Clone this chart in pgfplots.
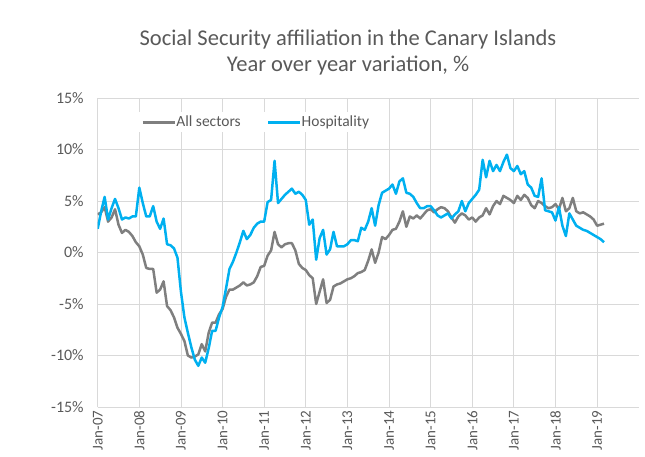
\documentclass[border=0pt]{standalone}
\usepackage{fontspec}
\setmainfont{Carlito}
\usepackage{pgfplots}
\pgfplotsset{compat=1.18}
\usepackage{pgfplotstable}
\definecolor{grayline}{HTML}{7F7F7F}
\definecolor{blueline}{HTML}{00B0F0}
\definecolor{gridc}{HTML}{D9D9D9}
\definecolor{txt}{HTML}{595959}

\pgfplotstableread{
m all hosp
0 3.7 2.3
1 3.9 4.0
2 4.4 5.4
3 3.0 3.2
4 3.4 4.3
5 4.2 5.2
6 2.7 4.3
7 1.9 3.2
8 2.2 3.4
9 2.0 3.3
10 1.6 3.5
11 1.0 3.5
12 0.6 6.3
13 -0.2 4.8
14 -1.5 3.5
15 -1.6 3.5
16 -1.6 4.5
17 -3.9 3.0
18 -3.6 2.3
19 -2.8 3.3
20 -5.2 0.8
21 -5.6 0.7
22 -6.3 0.4
23 -7.3 -0.5
24 -7.9 -3.8
25 -8.6 -6.3
26 -10.0 -7.8
27 -10.2 -9.2
28 -10.1 -10.4
29 -9.9 -11.0
30 -8.9 -10.2
31 -9.6 -10.7
32 -7.8 -9.3
33 -6.8 -7.6
34 -6.8 -7.6
35 -6.0 -6.3
36 -5.5 -5.3
37 -4.3 -3.5
38 -3.6 -1.6
39 -3.6 -0.9
40 -3.4 0.0
41 -3.2 1.0
42 -2.9 2.1
43 -3.2 1.3
44 -3.1 1.7
45 -2.9 2.4
46 -2.3 2.8
47 -1.4 3.0
48 -1.3 3.0
49 -0.3 4.9
50 0.2 5.1
51 2.0 8.9
52 0.8 4.8
53 0.5 5.2
54 0.8 5.6
55 0.9 5.9
56 0.9 6.2
57 0.2 5.7
58 -1.1 5.9
59 -1.5 5.6
60 -1.7 5.1
61 -2.2 2.7
62 -2.5 3.2
63 -5.0 -0.7
64 -3.8 1.4
65 -2.6 2.2
66 -4.9 -0.2
67 -4.6 0.3
68 -3.3 2.0
69 -3.1 0.6
70 -3.0 0.6
71 -2.8 0.6
72 -2.6 0.8
73 -2.5 1.2
74 -2.3 1.2
75 -2.0 1.1
76 -1.9 2.4
77 -1.7 2.2
78 -0.8 3.0
79 0.3 4.3
80 -1.0 2.6
81 0.0 4.6
82 1.5 5.8
83 1.3 6.0
84 1.7 6.2
85 2.2 6.6
86 2.3 5.7
87 3.0 6.9
88 4.0 7.2
89 2.5 5.8
90 3.5 5.7
91 3.3 5.4
92 3.6 4.8
93 3.3 4.3
94 3.7 4.3
95 4.1 4.5
96 4.2 4.5
97 3.9 4.1
98 4.2 3.6
99 4.4 3.4
100 4.3 3.6
101 4.0 3.8
102 3.4 3.3
103 2.9 3.7
104 3.5 4.0
105 3.8 5.0
106 3.6 4.0
107 3.2 4.8
108 3.4 5.2
109 3.0 5.6
110 3.4 6.1
111 3.6 9.0
112 4.3 7.3
113 3.7 8.9
114 4.5 7.9
115 5.0 8.5
116 4.7 7.9
117 5.5 8.8
118 5.3 9.5
119 5.1 8.2
120 4.8 7.9
121 5.5 8.4
122 5.1 7.6
123 5.6 7.9
124 5.3 6.6
125 4.6 6.3
126 4.3 5.5
127 5.0 5.4
128 4.8 7.2
129 4.5 4.1
130 4.3 4.0
131 4.4 3.9
132 4.7 3.1
133 4.2 4.4
134 5.3 2.6
135 4.0 1.6
136 4.3 3.8
137 5.3 3.2
138 4.0 2.6
139 3.8 2.4
140 3.9 2.2
141 3.7 2.1
142 3.5 1.9
143 3.2 1.7
144 2.6 1.5
145 2.7 1.3
146 2.8 1.0
}\datatable

\begin{document}
\begin{tikzpicture}
\path[use as bounding box] (0,0) rectangle (645pt,456pt);
\begin{axis}[
  at={(97.7pt,49pt)}, anchor=south west,
  scale only axis, width=541pt, height=309pt,
  xmin=0, xmax=156, ymin=-15, ymax=15,
  xtick={0,12,...,144},
  xticklabels={Jan-07,Jan-08,Jan-09,Jan-10,Jan-11,Jan-12,Jan-13,Jan-14,Jan-15,Jan-16,Jan-17,Jan-18,Jan-19},
  ytick={-15,-10,...,15},
  yticklabel={\pgfmathprintnumber{\tick}\%},
  /pgf/number format/assume math mode=true,
  axis lines=left,
  axis line style={gridc, line width=0.8pt, -},
  grid=major,
  grid style={gridc, line width=0.8pt},
  major tick length=0pt,
  tick label style={text=txt, font=\fontsize{16}{18}\selectfont},
  y tick label style={xshift=-10.5pt},
  x tick label style={rotate=90, anchor=east, font=\fontsize{15}{17}\selectfont},
  legend columns=2,
  legend style={at={(0.293,0.922)}, anchor=center, draw=none, fill=white,
    font=\fontsize{15.5}{17}\selectfont, text=txt,
    /tikz/every even column/.append style={column sep=24pt},
    /tikz/every odd column/.append style={column sep=-2pt}},
  legend image code/.code={\draw[#1, line width=3pt] (0pt,0pt) -- (32pt,0pt);},
  line join=round,
]
\addplot[grayline, line width=2.5pt, no markers] table[x=m, y=all] {\datatable};
\addlegendentry{All sectors}
\addplot[blueline, line width=2.5pt, no markers] table[x=m, y=hosp] {\datatable};
\addlegendentry{Hospitality}
\end{axis}
\node[text=txt, font=\fontsize{22.5}{26}\selectfont] at (348pt,416pt) {Social Security affiliation in the Canary Islands};
\node[text=txt, font=\fontsize{22.5}{26}\selectfont] at (348pt,390pt) {Year over year variation, \%};
\end{tikzpicture}
\end{document}
